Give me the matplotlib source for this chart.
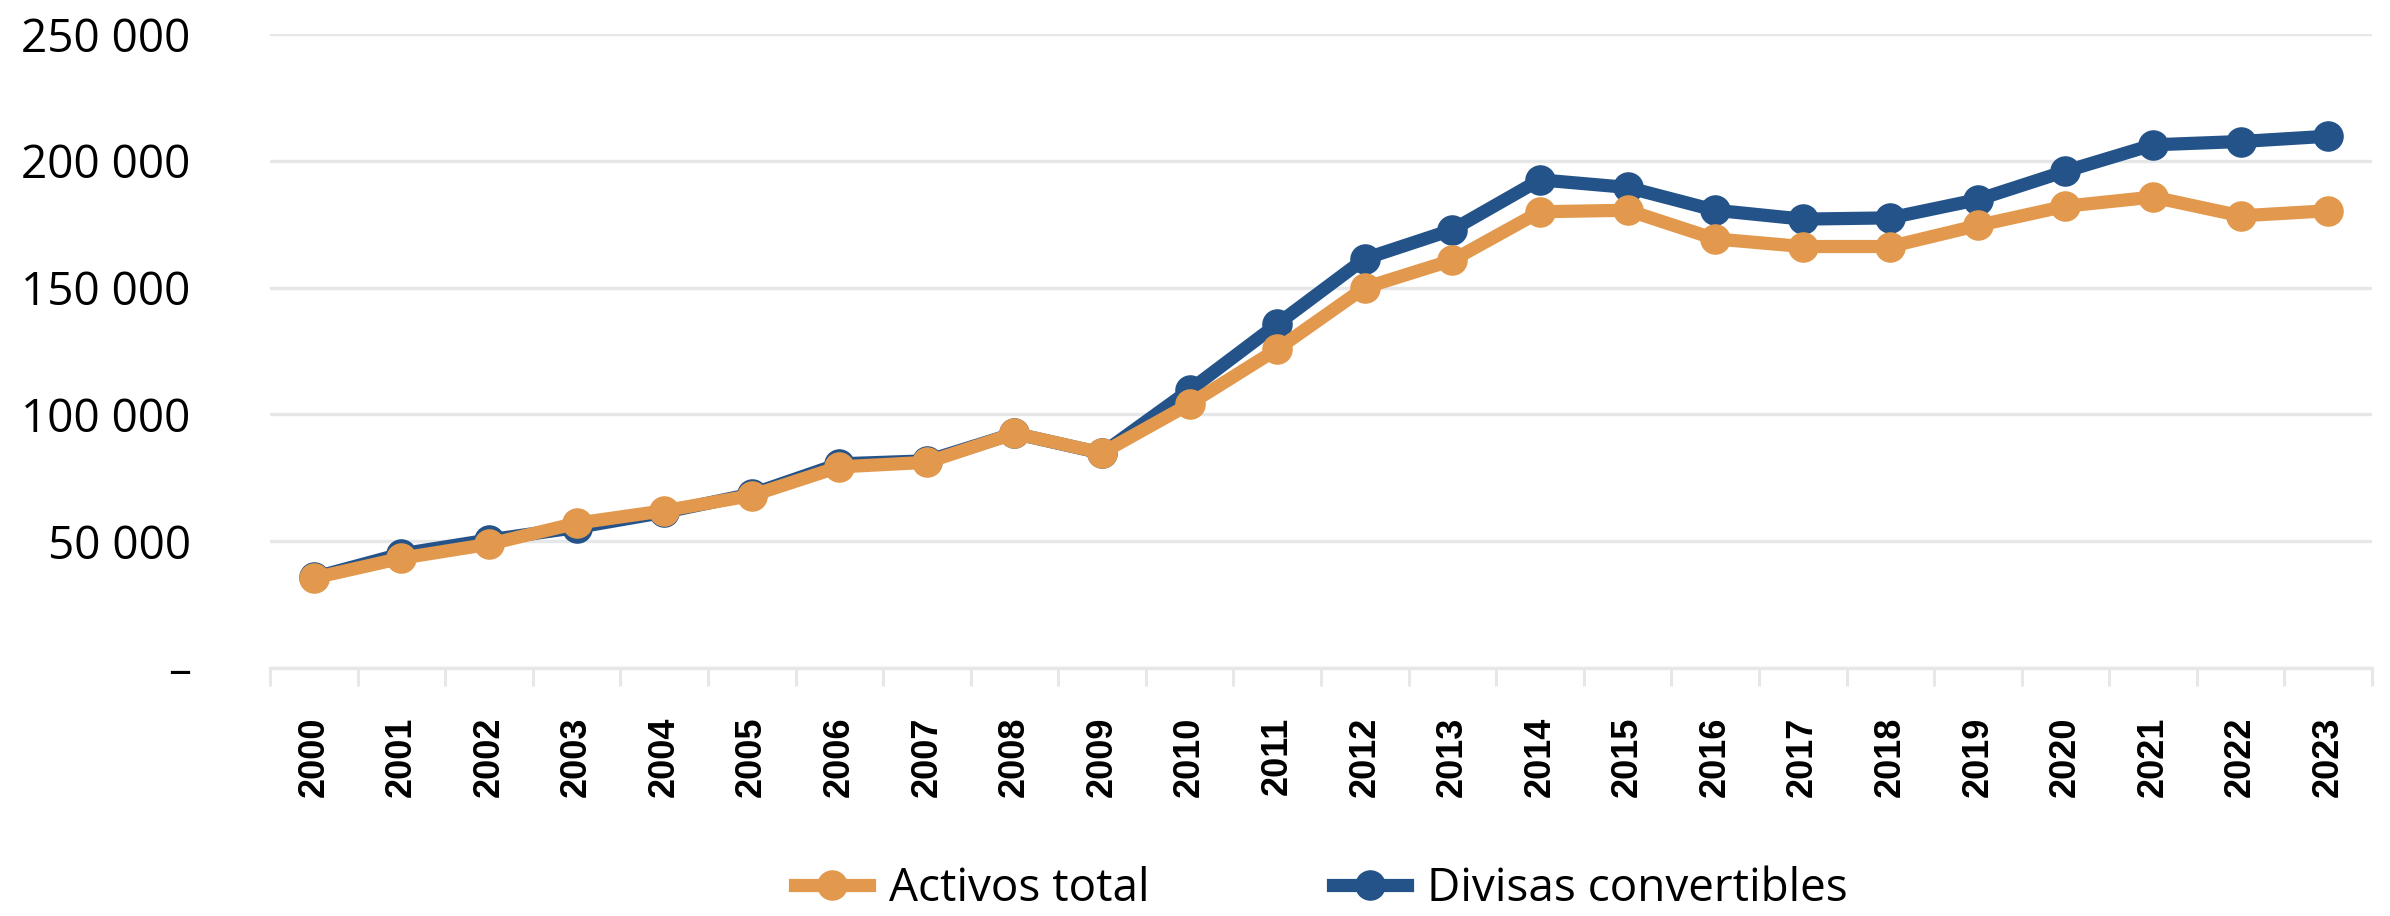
import matplotlib
matplotlib.use('Agg')
import matplotlib.pyplot as plt
import numpy as np

years = [str(y) for y in range(2000, 2024)]
activos_total = [35500, 43300, 48800, 57100, 62000, 68000, 79300, 81100, 92500, 84800,
                 104100, 125700, 150000, 160800, 179900, 180500, 169200, 166200, 166200,
                 174500, 182100, 185700, 178300, 180300]
divisas_conv = [35700, 45000, 50500, 55400, 61400, 68600, 80500, 81700, 92500, 84700,
                109600, 135600, 161400, 172800, 192500, 189500, 180500, 177000, 177500,
                184700, 195900, 206300, 207600, 209700]
y_ticks = [0, 50000, 100000, 150000, 200000, 250000]
y_labels = ['–', '50 000', '100 000', '150 000', '200 000', '250 000']

orange = '#E2994D'
blue = '#24538A'
grid_col = '#E6E7E8'

plt.rcParams['font.family'] = ['Open Sans', 'DejaVu Sans']

fig = plt.figure(figsize=(23.9, 9.16), dpi=100)
ax = fig.add_axes([270 / 2390, (916 - 668) / 916, (2372 - 270) / 2390, (668 - 34) / 916])

x = np.arange(len(years))
# blue first so the orange line sits on top where they overlap
ax.plot(x, divisas_conv, color=blue, lw=9.5, marker='o', ms=21,
        label='Divisas convertibles', clip_on=False, zorder=3)
ax.plot(x, activos_total, color=orange, lw=9.5, marker='o', ms=21,
        label='Activos total', clip_on=False, zorder=4)

ax.set_xlim(-0.5, len(years) - 0.5)
ax.set_ylim(0, 250000)

ax.set_yticks(y_ticks)
ax.set_yticklabels(y_labels, fontsize=33)
ax.tick_params(axis='y', length=0, pad=57)
ax.grid(axis='y', color=grid_col, lw=2.4)
ax.set_axisbelow(True)

ax.set_xticks(x)
ax.set_xticklabels(years, rotation=90, fontsize=26, fontweight='bold',
                   family=['Liberation Sans', 'DejaVu Sans'])
ax.set_xticks(np.arange(-0.5, len(years)), minor=True)
ax.tick_params(axis='x', which='major', length=0, pad=35)
ax.tick_params(axis='x', which='minor', length=13, width=2.2, color=grid_col)

for s in ['top', 'right', 'left']:
    ax.spines[s].set_visible(False)
ax.spines['bottom'].set_color(grid_col)
ax.spines['bottom'].set_linewidth(2.4)

h, l = ax.get_legend_handles_labels()
fig.legend(h[::-1], l[::-1], loc='center', bbox_to_anchor=(0.553, 0.029), ncol=2,
           frameon=False, fontsize=33, numpoints=1, handlelength=1.6,
           columnspacing=4, handletextpad=0.45)

fig.savefig('out.png', dpi=100)
